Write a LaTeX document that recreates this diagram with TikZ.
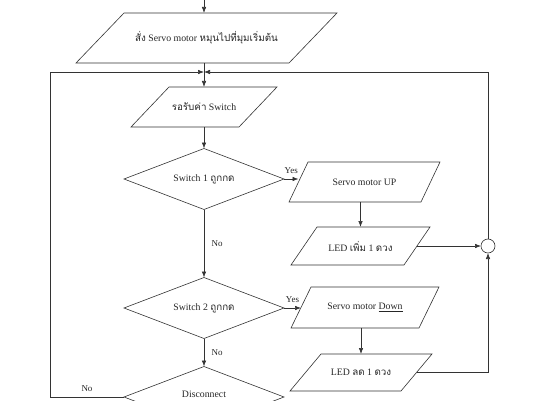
\documentclass[tikz,border=0pt]{standalone}
\usepackage{fontspec}
\setmainfont{Liberation Serif}
\newfontfamily\thaifont[Script=Thai,Scale=1.0]{Loma}
\usetikzlibrary{shapes.geometric,arrows.meta}
\newcommand{\thx}[1]{{\thaifont #1}}
% outline of a parallelogram around a rectangular node: #1 name, #2 horizontal offset
\newcommand{\slantbox}[2]{%
  \draw[outl] ([xshift=#2/2]#1.north west) -- ([xshift=#2/2]#1.north east)
    -- ([xshift=-#2/2]#1.south east) -- ([xshift=-#2/2]#1.south west) -- cycle;}
\begin{document}
\begin{tikzpicture}[x=1pt,y=1pt,
  line width=0.6pt,
  every node/.style={font=\fontsize{9.8}{11}\selectfont, text=black!85},
  io/.style={rectangle, inner sep=0pt, outer sep=0pt},
  outl/.style={draw=black!80},
  dec/.style={draw=black!80, diamond, aspect=2.6, inner sep=0pt, outer sep=0pt, minimum width=160pt, minimum height=61pt},
  arr/.style={draw=black!80, -{Latex[length=6pt,width=4.5pt]}},
  ln/.style={draw=black!80},
  lbl/.style={font=\fontsize{9}{10}\selectfont}
]
\useasboundingbox (0,0) rectangle (536,400);
\clip (0,0) rectangle (536,400);

\coordinate (top) at (204,400);
\node[io, minimum width=213pt, minimum height=50pt] (p0) at (206.5,362) {\thx{สั่ง} Servo motor \thx{หมุนไปที่มุมเริ่มต้น}};
\slantbox{p0}{48pt}
\coordinate (J) at (204,328);
\node[io, minimum width=108pt, minimum height=40pt] (p1) at (204,293) {\thx{รอรับค่า} Switch};
\slantbox{p1}{38pt}
\node[dec] (d1) at (204,221) {Switch 1 \thx{ถูกกด}};
\node[io, minimum width=132pt, minimum height=40pt] (p2) at (364.5,218) {Servo motor UP};
\slantbox{p2}{19pt}
\node[io, minimum width=113pt, minimum height=38pt] (p3) at (360.5,154) {LED \thx{เพิ่ม} 1 \thx{ดวง}};
\slantbox{p3}{26pt}
\node[draw=black!80, circle, minimum size=14pt, inner sep=0pt, outer sep=0pt] (c) at (488,154) {};
\node[dec] (d2) at (204,92) {Switch 2 \thx{ถูกกด}};
\node[io, minimum width=128pt, minimum height=41pt] (p4) at (365,92.5) {Servo motor \underline{Down}};
\slantbox{p4}{20pt}
\node[io, minimum width=111pt, minimum height=37pt] (p5) at (361,27.5) {LED \thx{ลด} 1 \thx{ดวง}};
\slantbox{p5}{31pt}
\node[dec] (d3) at (204,3) {};
\node at (204,6) {Disconnect};
\coordinate (lft) at (50,0);

% connectors
\draw[arr] (top) -- (top |- p0.north);
\draw[ln] (top |- p0.south) -- (J);
\draw[arr] (J) -- (J |- p1.north);
\draw[arr] (p1.south) -- (d1.north);
\draw[arr] (d1.east) -- (d1.east -| p2.west) node[lbl, pos=0.5, above=2pt] {Yes};
\draw[arr] (p3.north |- p2.south) -- (p3.north);
\draw[arr] (p3.east) -- (c.west);
\draw[arr] (c.north) |- (J);
\draw[arr] (d1.south) -- (d2.north) node[lbl, pos=0.5, right=4pt] {No};
\draw[arr] (d2.east) -- (d2.east -| p4.west) node[lbl, pos=0.5, above=2pt] {Yes};
\draw[arr] (p5.north |- p4.south) -- (p5.north);
\draw[arr] (p5.east) -| (c.south);
\draw[arr] (d2.south) -- (d3.north) node[lbl, pos=0.5, right=4pt] {No};
\draw[arr] (d3.west) -- (d3.west -| lft) node[lbl, pos=0.5, above=2pt] {No} |- (J);
\end{tikzpicture}
\end{document}
